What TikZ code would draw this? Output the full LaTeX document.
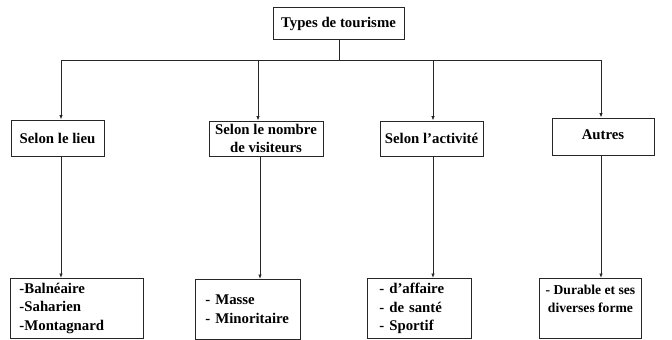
\documentclass[tikz,border=0pt]{standalone}
\usepackage{fontspec}
\setmainfont{Liberation Serif}
\usetikzlibrary{arrows.meta}
\begin{document}
\begin{tikzpicture}[x=1pt,y=-1pt,
  boxbase/.style={draw=black!85, line width=0.9pt, inner sep=0pt, font=\fontsize{14.8}{18.5}\selectfont\bfseries},
  catbox/.style={boxbase, align=center},
  listbox/.style={boxbase, align=left, anchor=north west},
  link/.style={draw=black!85, line width=0.8pt},
  arr/.style={link, -{Latex[length=4.5pt,width=3.5pt]}}
]
\useasboundingbox (0,0) rectangle (672,340);
% top
\node[catbox, minimum width=131pt, minimum height=32pt] (top) at (338.5,23.5) {Types de tourisme};
% level 2
\node[catbox, minimum width=93pt, minimum height=36pt] (c1) at (57.5,138) {Selon le lieu};
\node[catbox, minimum width=114pt, minimum height=35pt] (c2) at (266,138.5) {Selon le nombre\\de visiteurs};
\node[catbox, minimum width=103pt, minimum height=35pt] (c3) at (431.5,138.5) {Selon l’activité};
\node[catbox, minimum width=102pt, minimum height=37pt, text depth=4pt] (c4) at (603,136.5) {Autres};
% level 3
\node[listbox, text width=115pt, minimum height=60pt, inner xsep=9pt] (l1) at (10,278) {-Balnéaire\\-Saharien\\-Montagnard};
\node[listbox, text width=85pt, minimum height=60pt, inner xsep=10pt] (l2) at (195,279) {- Masse\\- Minoritaire};
\node[listbox, text width=80pt, minimum height=60pt, inner xsep=12pt] (l3) at (367,278) {- d’affaire\\- de santé\\- Sportif};
\node[boxbase, align=center, anchor=north west, minimum width=102pt, minimum height=60pt, text depth=20pt, font=\fontsize{13.6}{18}\selectfont\bfseries] (l4) at (539,278) {- Durable et ses\\diverses forme};
% connectors
\coordinate (j0) at (339,60);
\coordinate (j1) at (61,60);
\coordinate (j2) at (258,60);
\coordinate (j3) at (433,60);
\coordinate (j4) at (601,60);
\draw[link] (top.south -| j0) -- (j0);
\draw[link] (j1) -- (j4);
\draw[arr] (j1) -- (j1 |- c1.north);
\draw[arr] (j2) -- (j2 |- c2.north);
\draw[arr] (j3) -- (j3 |- c3.north);
\draw[arr] (j4) -- (j4 |- c4.north);
\draw[arr] (c1.south -| j1) -- (j1 |- l1.north);
\draw[arr] ([xshift=2pt]c2.south -| j2) -- ([xshift=2pt]j2 |- l2.north);
\draw[arr] (c3.south -| j3) -- (j3 |- l3.north);
\draw[arr] (c4.south -| j4) -- (j4 |- l4.north);
\end{tikzpicture}
\end{document}
